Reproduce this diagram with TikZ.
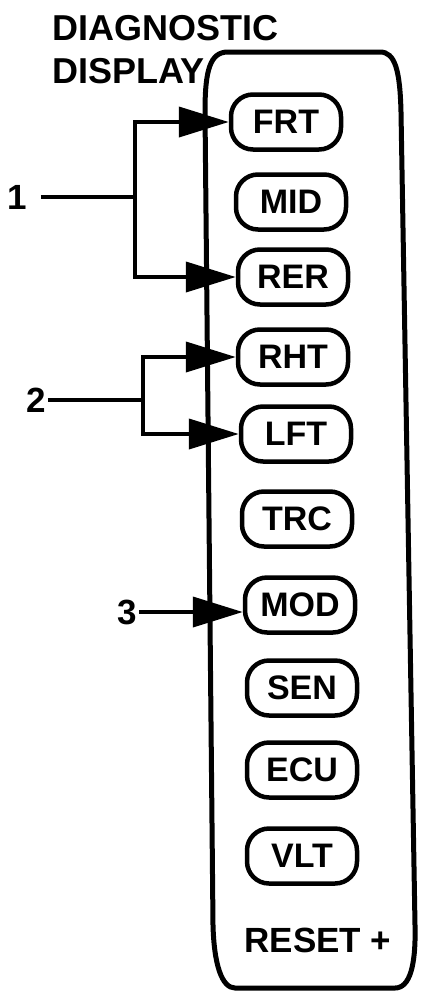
\documentclass[tikz,border=0pt]{standalone}
\usepackage{fontspec}
\setmainfont{Liberation Sans}
\usetikzlibrary{arrows.meta}

\begin{document}
\begin{tikzpicture}[x=1pt, y=-1pt,
    boton/.style={draw, line width=4.5pt, rounded corners=22pt, minimum width=110pt,
        minimum height=55pt, inner sep=0pt, font=\bfseries\fontsize{34}{34}\selectfont},
    etiq/.style={inner sep=0pt, font=\bfseries\fontsize{35}{35}\selectfont},
    linea/.style={line width=4pt},
    flecha/.style={line width=4pt, line join=miter, -{Triangle[length=50pt, width=30pt]}}]
    \useasboundingbox (0,0) rectangle (436,1005);

    % Titulo
    \node[etiq, anchor=north west, align=left, font=\bfseries\fontsize{36}{43}\selectfont]
        (titulo) at (52,15) {DIAGNOSTIC\\DISPLAY};

    % Panel
    \draw[line width=5pt] (205,112) .. controls (205,70) and (210,52) .. (228,52)
        -- (380,52) .. controls (395,52) and (400,70) .. (401,112)
        -- (415,925) .. controls (416,965) and (410,988) .. (395,988)
        -- (235,988) .. controls (222,988) and (214,965) .. (213,925) -- cycle;

    % Botones
    \node[boton] (frt) at (286,122) {FRT};
    \node[boton] (mid) at (291,202) {MID};
    \node[boton] (rer) at (293,277) {RER};
    \node[boton] (rht) at (293,357) {RHT};
    \node[boton] (lft) at (296,434) {LFT};
    \node[boton] (trc) at (297,519) {TRC};
    \node[boton] (mod) at (300,605) {MOD};
    \node[boton] (sen) at (302,688) {SEN};
    \node[boton] (ecu) at (302,770) {ECU};
    \node[boton] (vlt) at (302,856) {VLT};
    \node[etiq] (reset) at (318,940) {RESET +};

    % Referencias
    \node[etiq] (l1) at (17,197) {1};
    \node[etiq] (l2) at (36,400) {2};
    \node[etiq] (l3) at (127,612) {3};

    % Flechas 1
    \coordinate (j1) at (135,197);
    \draw[linea, shorten <=14pt] (l1) -- (j1);
    \draw[flecha] (j1) |- (frt.west);
    \draw[flecha] (j1) |- (rer.west);

    % Flechas 2
    \coordinate (j2) at (143,400);
    \draw[linea, shorten <=2pt] (l2) -- (j2);
    \draw[flecha] (j2) |- (rht.west);
    \draw[flecha] (j2) |- (lft.west);

    % Flecha 3
    \draw[flecha, shorten <=2pt] (l3) -- (l3 -| mod.west);
\end{tikzpicture}
\end{document}
